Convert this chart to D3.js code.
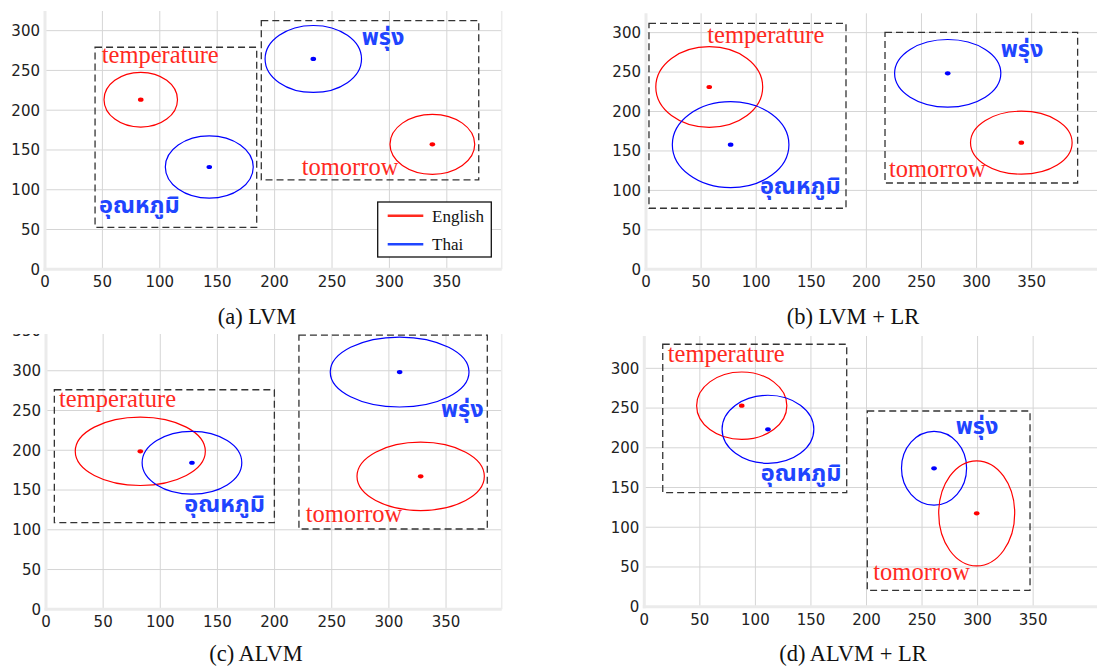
<!DOCTYPE html>
<html>
<head>
<meta charset="utf-8">
<script src="https://cdn.jsdelivr.net/npm/d3@7/dist/d3.min.js"></script>
<style>
  html, body { margin: 0; padding: 0; background: #fff; }
  svg { display: block; }
</style>
</head>
<body>
<svg id="chart" width="1097" height="666"></svg>
<script>
// ---------------- data ----------------
const words = ["temperature", "อุณหภูมิ", "พรุ่ง", "tomorrow"];
const languages = ["English", "Thai", "Thai", "English"];
const legendLabels = ["English", "Thai"];
const captions = ["(a) LVM", "(b) LVM + LR", "(c) ALVM", "(d) ALVM + LR"];
const xTicks = [0, 50, 100, 150, 200, 250, 300, 350];
const yTicks = [0, 50, 100, 150, 200, 250, 300, 350];

// per panel (a, b, c, d), per word
const centerX = [[83.4, 143.1, 233.7, 337.4], [57.4, 76.8, 273.8, 340.6], [82.5, 127.7, 309.4, 327.8], [87.7, 111.3, 260.8, 299.2]];
const centerY = [[213.2, 128.6, 264.4, 157.1], [231.1, 158.0, 248.4, 160.5], [198.7, 184.3, 298.4, 167.2], [253.0, 223.3, 174.2, 117.5]];
const radiusX = [[32.0, 38.3, 42.0, 36.9], [48.5, 52.9, 48.2, 46.1], [56.9, 43.6, 60.7, 55.7], [40.6, 41.3, 29.3, 34.2]];
const radiusY = [[34.4, 39.2, 42.1, 37.7], [51.1, 54.5, 42.9, 39.9], [43.0, 39.4, 44.0, 43.0], [42.4, 42.8, 46.4, 66.1]];
const labelX = [[49.4, 47.0, 275.9, 223.6], [55.6, 103.4, 321.9, 220.5], [11.4, 121.0, 345.6, 227.2], [21.1, 104.8, 280.3, 206.1]];
const labelY = [[259.0, 70.8, 282.0, 118.6], [287.2, 95.1, 269.5, 116.6], [254.7, 122.7, 241.4, 110.1], [308.4, 158.2, 217.0, 33.6]];
// group boxes: [x0, x1, yTop, yBottom]
const boxes = [
  [[43.6, 184.4, 279.1, 52.8], [188.4, 377.8, 312.6, 112.3]],
  [[2.7, 181.5, 311.8, 77.4], [216.9, 391.7, 300.4, 109.4]],
  [[7.3, 199.8, 276.1, 108.9], [221.3, 386.1, 344.9, 101.0]],
  [[16.6, 182.2, 330.3, 143.5], [200.7, 347.2, 246.3, 20.6]]
];
const xMax = [397.8, 414, 398.7, 410];
const yMax = [324.7, 324.5, 350, 340.7];

// ---------------- layout ----------------
const frames = [
  { left: 45, right: 501.7, bottom: 269.3, top: 11, clipTop: 0, capX: 257, capY: 323.5 },
  { left: 646, right: 1102.2, bottom: 269.3, top: 13.3, clipTop: 0, capX: 853, capY: 323.5 },
  { left: 46, right: 501.7, bottom: 609.3, top: 331, clipTop: 334, capX: 256, capY: 661 },
  { left: 644.3, right: 1099.8, bottom: 606.7, top: 336, clipTop: 0, capX: 853, capY: 661 }
];
const colors = { English: "#ff0000", Thai: "#0000ff" };
const textColors = { English: "#ff2a1f", Thai: "#1f45ff" };

const svg = d3.select("#chart");
const defs = svg.append("defs");

frames.forEach((f, p) => {
  const x = d3.scaleLinear().domain([0, xMax[p]]).range([f.left, f.right]);
  const y = d3.scaleLinear().domain([0, yMax[p]]).range([f.bottom, f.top]);

  defs.append("clipPath").attr("id", "clip" + p)
    .append("rect").attr("x", f.left - 60).attr("y", f.clipTop)
    .attr("width", 1200).attr("height", 666 - f.clipTop);

  const g = svg.append("g").attr("clip-path", `url(#clip${p})`);

  // grid
  g.append("g").selectAll("line.vx").data(xTicks.filter(v => v > 0 && v <= xMax[p])).join("line")
    .attr("x1", d => x(d)).attr("x2", d => x(d)).attr("y1", f.top).attr("y2", f.bottom)
    .attr("stroke", "#d5d5d5").attr("stroke-width", 1);
  g.append("g").selectAll("line.hy").data(yTicks.filter(v => v > 0 && v <= yMax[p])).join("line")
    .attr("x1", f.left).attr("x2", f.right).attr("y1", d => y(d)).attr("y2", d => y(d))
    .attr("stroke", "#d5d5d5").attr("stroke-width", 1);

  // spines
  g.append("line").attr("x1", f.left).attr("x2", f.left).attr("y1", f.top).attr("y2", f.bottom + 1.5)
    .attr("stroke", "#ebebeb").attr("stroke-width", 3);
  g.append("line").attr("x1", f.left - 1.5).attr("x2", f.right).attr("y1", f.bottom).attr("y2", f.bottom)
    .attr("stroke", "#ebebeb").attr("stroke-width", 3);
  g.append("line").attr("x1", f.right).attr("x2", f.right).attr("y1", f.top).attr("y2", f.bottom)
    .attr("stroke", "#ececec").attr("stroke-width", 1.5);

  // tick labels
  g.append("g").selectAll("text").data(xTicks.filter(v => v <= xMax[p])).join("text")
    .attr("x", d => x(d)).attr("y", f.bottom + 18)
    .attr("text-anchor", "middle")
    .attr("font-family", "'DejaVu Sans', sans-serif").attr("font-size", 15).attr("fill", "#222")
    .text(d => d);
  g.append("g").selectAll("text").data(yTicks.filter(v => v <= yMax[p])).join("text")
    .attr("x", f.left - 5).attr("y", d => y(d)).attr("dy", "0.36em")
    .attr("text-anchor", "end")
    .attr("font-family", "'DejaVu Sans', sans-serif").attr("font-size", 15).attr("fill", "#222")
    .text(d => d);

  // dashed group boxes
  g.append("g").selectAll("rect").data(boxes[p]).join("rect")
    .attr("x", d => x(d[0])).attr("y", d => y(d[2]))
    .attr("width", d => x(d[1]) - x(d[0])).attr("height", d => y(d[3]) - y(d[2]))
    .attr("fill", "none").attr("stroke", "#333").attr("stroke-width", 1.3)
    .attr("stroke-dasharray", "7,4");

  const idx = words.map((w, i) => i);
  // ellipses
  g.append("g").selectAll("ellipse").data(idx).join("ellipse")
    .attr("cx", i => x(centerX[p][i])).attr("cy", i => y(centerY[p][i]))
    .attr("rx", i => x(radiusX[p][i]) - x(0)).attr("ry", i => y(0) - y(radiusY[p][i]))
    .attr("fill", "none").attr("stroke", i => colors[languages[i]]).attr("stroke-width", 1.2);
  // centers
  g.append("g").selectAll("ellipse").data(idx).join("ellipse")
    .attr("cx", i => x(centerX[p][i])).attr("cy", i => y(centerY[p][i]))
    .attr("rx", 2.8).attr("ry", 2.1)
    .attr("fill", i => colors[languages[i]]);
  // labels
  g.append("g").selectAll("text").data(idx).join("text")
    .attr("x", i => x(labelX[p][i])).attr("y", i => y(labelY[p][i]))
    .attr("fill", i => textColors[languages[i]])
    .attr("font-family", i => languages[i] === "English" ? "'Liberation Serif', 'Times New Roman', serif" : "'Noto Sans Thai', 'Noto Sans', 'DejaVu Sans', sans-serif")
    .attr("font-weight", i => languages[i] === "English" ? "normal" : "bold")
    .attr("font-size", i => languages[i] === "English" ? 24.5 : 23.5)
    .text(i => words[i]);

  // caption
  svg.append("text").attr("x", f.capX).attr("y", f.capY).attr("text-anchor", "middle")
    .attr("font-family", "'Liberation Serif', 'Times New Roman', serif").attr("font-size", 22.5)
    .attr("fill", "#111").text(captions[p]);

  // legend (panel a only)
  if (p === 0) {
    const lg = svg.append("g");
    lg.append("rect").attr("x", 377.7).attr("y", 202).attr("width", 113.6).attr("height", 55)
      .attr("fill", "#fff").attr("stroke", "#111").attr("stroke-width", 1.3);
    legendLabels.forEach((lab, k) => {
      const yy = 215.7 + k * 28.6;
      lg.append("line").attr("x1", 387.7).attr("x2", 423.3).attr("y1", yy).attr("y2", yy)
        .attr("stroke", textColors[lab]).attr("stroke-width", 2.5);
      lg.append("text").attr("x", 432).attr("y", yy + 6)
        .attr("font-family", "'Liberation Serif', 'Times New Roman', serif").attr("font-size", 17)
        .attr("fill", "#111").text(lab);
    });
  }
});
</script>
</body>
</html>
